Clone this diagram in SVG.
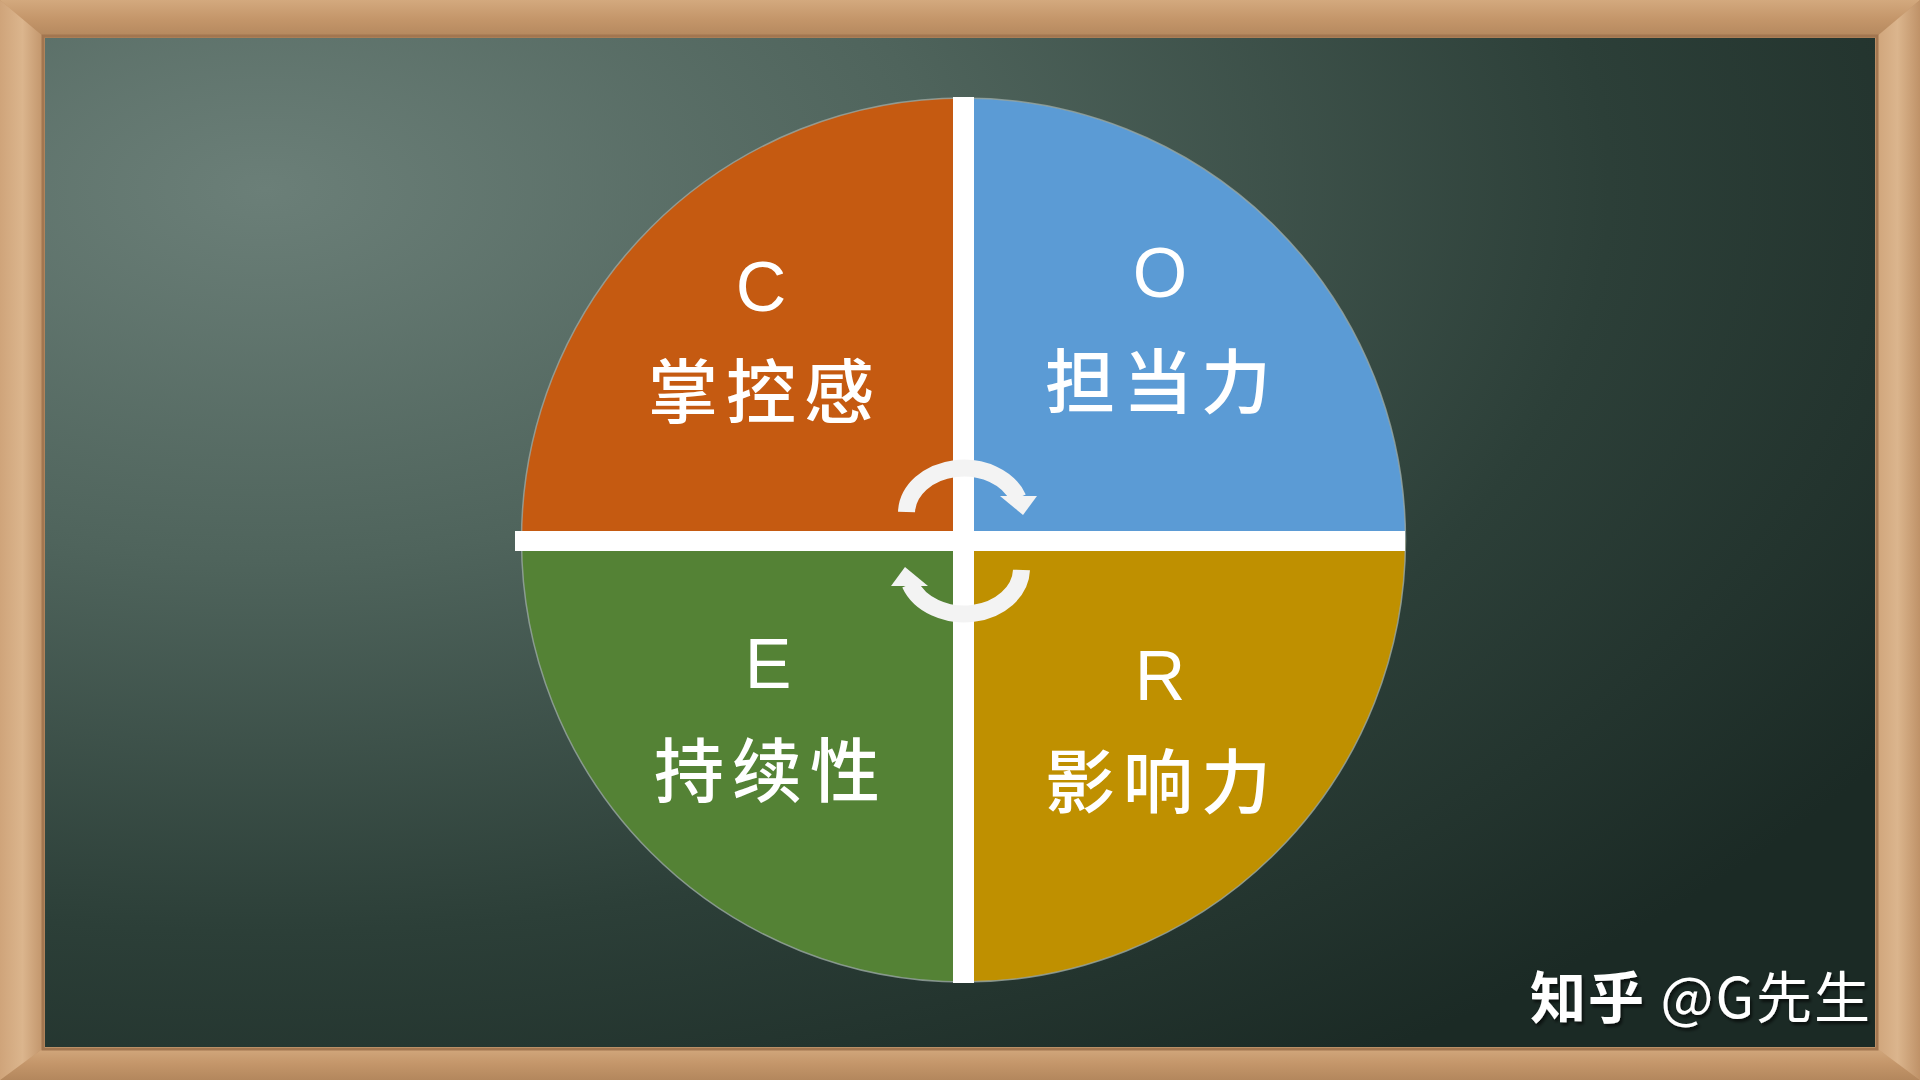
<svg xmlns="http://www.w3.org/2000/svg" width="1920" height="1080" viewBox="0 0 1920 1080">
  <defs>
    <radialGradient id="board" cx="0.12" cy="0.15" r="1.05" fx="0.12" fy="0.15">
      <stop offset="0" stop-color="#6b7f78"/>
      <stop offset="0.35" stop-color="#4f645c"/>
      <stop offset="0.7" stop-color="#2c3f38"/>
      <stop offset="1" stop-color="#1b2a25"/>
    </radialGradient>
    <linearGradient id="woodH" x1="0" y1="0" x2="0" y2="1">
      <stop offset="0" stop-color="#d3a97e"/>
      <stop offset="0.5" stop-color="#c4966a"/>
      <stop offset="1" stop-color="#b3875d"/>
    </linearGradient>
    <linearGradient id="woodV" x1="0" y1="0" x2="1" y2="0">
      <stop offset="0" stop-color="#cfa47a"/>
      <stop offset="0.5" stop-color="#dbb58d"/>
      <stop offset="1" stop-color="#bf9268"/>
    </linearGradient>
    <clipPath id="circ">
      <circle cx="963.5" cy="540" r="442"/>
    </clipPath>
    <filter id="sh" x="-10%" y="-10%" width="120%" height="130%">
      <feDropShadow dx="2" dy="3" stdDeviation="1.5" flood-color="#000" flood-opacity="0.6"/>
    </filter>
  </defs>
  <style>
    .lbl { fill: #ffffff; font-family: "Liberation Sans", "Noto Sans CJK SC", sans-serif; font-size: 70px; text-anchor: middle; }
    .cjk { fill: #ffffff; font-family: "Noto Sans CJK SC", sans-serif; font-size: 70px; font-weight: 500; text-anchor: middle; letter-spacing: 8px; }
    .arc { fill: none; stroke: #f3f3f3; stroke-width: 17; }
    .head { fill: #f3f3f3; }
  </style>

  <g id="frame">
    <rect x="0" y="0" width="1920" height="1080" fill="#c39469"/>
    <polygon points="0,0 1920,0 1875,38 45,38" fill="url(#woodH)"/>
    <polygon points="0,1080 1920,1080 1875,1047 45,1047" fill="url(#woodH)"/>
    <polygon points="0,0 45,38 45,1047 0,1080" fill="url(#woodV)"/>
    <polygon points="1920,0 1875,38 1875,1047 1920,1080" fill="url(#woodV)"/>
    <rect x="43" y="36" width="1834" height="1013" fill="none" stroke="#a27650" stroke-width="3"/>
  </g>

  <g id="board-area">
    <rect x="45" y="38" width="1830" height="1009" fill="url(#board)"/>
  </g>

  <g id="circle">
    <g clip-path="url(#circ)">
      <rect id="quad-C" x="500" y="80" width="463.5" height="460" fill="#c55a11"/>
      <rect id="quad-O" x="963.5" y="80" width="460" height="460" fill="#5b9bd5"/>
      <rect id="quad-E" x="500" y="540" width="463.5" height="460" fill="#548235"/>
      <rect id="quad-R" x="963.5" y="540" width="460" height="460" fill="#bf9000"/>
    </g>
    <circle cx="963.5" cy="540" r="442" fill="none" stroke="#9aa8a2" stroke-width="1.5" opacity="0.8"/>
    <rect x="953" y="97" width="21" height="886" fill="#ffffff"/>
    <rect x="515" y="531" width="890" height="20" fill="#ffffff"/>
  </g>

  <g id="connectors">
    <g id="cycle-top">
      <path class="arc" d="M906.5,512 A57.5,45.5 0 0 1 1018,498"/>
      <polygon class="head" points="1000,496 1037,496 1023,515"/>
    </g>
    <g id="cycle-bottom" transform="rotate(180 964 541)">
      <path class="arc" d="M906.5,512 A57.5,45.5 0 0 1 1018,498"/>
      <polygon class="head" points="1000,496 1037,496 1023,515"/>
    </g>
  </g>

  <g id="node-C">
    <text class="lbl" x="761" y="311">C</text>
    <text class="cjk" x="765" y="418">掌控感</text>
  </g>
  <g id="node-O">
    <text class="lbl" x="1160" y="297">O</text>
    <text class="cjk" x="1162" y="408">担当力</text>
  </g>
  <g id="node-E">
    <text class="lbl" x="768" y="688">E</text>
    <text class="cjk" x="771" y="797">持续性</text>
  </g>
  <g id="node-R">
    <text class="lbl" x="1160" y="700">R</text>
    <text class="cjk" x="1162" y="808">影响力</text>
  </g>

  <g id="watermark" filter="url(#sh)">
    <text x="1530" y="1018" fill="#ffffff" font-family="Noto Sans CJK SC, sans-serif" font-size="56" letter-spacing="2"><tspan font-weight="bold">知乎</tspan> @G先生</text>
  </g>
</svg>
